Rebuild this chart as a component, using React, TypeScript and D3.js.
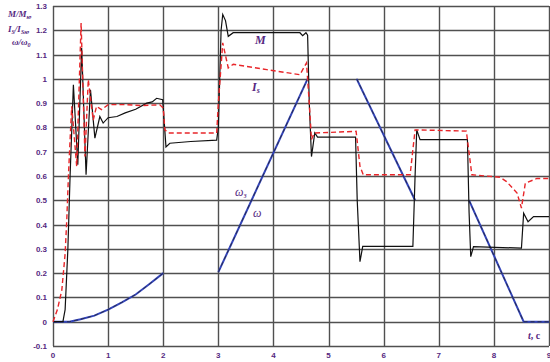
import React from "react";
import * as d3 from "d3";

// M/Mн (black)
const mT = [0, 0.18, 0.22, 0.27, 0.31, 0.37, 0.45, 0.52, 0.6, 0.68, 0.76, 0.85, 0.91, 1.0, 1.16, 1.31, 1.5, 1.7, 1.8, 1.88, 1.99, 2.05, 2.12, 2.5, 2.97, 3.0, 3.05, 3.08, 3.13, 3.18, 3.27, 4.48, 4.53, 4.59, 4.62, 4.65, 4.69, 4.75, 4.8, 5.49, 5.52, 5.57, 5.62, 6.53, 6.57, 6.6, 6.66, 7.52, 7.55, 7.58, 7.63, 8.5, 8.54, 8.62, 8.72, 9.0];
const mV = [0, 0, 0.05, 0.3, 0.6, 0.976, 0.646, 1.127, 0.605, 0.955, 0.756, 0.845, 0.818, 0.84, 0.845, 0.86, 0.875, 0.9, 0.905, 0.92, 0.914, 0.72, 0.735, 0.742, 0.748, 0.8, 1.2, 1.265, 1.24, 1.175, 1.19, 1.19, 1.178, 1.19, 1.18, 0.9, 0.68, 0.777, 0.76, 0.76, 0.5, 0.247, 0.31, 0.31, 0.6, 0.79, 0.75, 0.75, 0.45, 0.268, 0.309, 0.303, 0.447, 0.412, 0.433, 0.433];

// Is/Isн (red dashed)
const iT = [0, 0.08, 0.16, 0.22, 0.25, 0.28, 0.31, 0.34, 0.43, 0.51, 0.58, 0.64, 0.73, 0.79, 0.88, 1.0, 1.31, 1.6, 1.94, 2.0, 2.03, 2.1, 2.97, 3.0, 3.08, 3.18, 3.27, 3.88, 4.48, 4.6, 4.65, 4.69, 4.74, 5.5, 5.57, 5.63, 6.48, 6.57, 7.5, 7.6, 8.11, 8.23, 8.42, 8.5, 8.57, 8.78, 9.0];
const iV = [0, 0.05, 0.13, 0.28, 0.42, 0.6, 0.75, 0.887, 0.64, 1.23, 0.68, 0.997, 0.83, 0.887, 0.873, 0.894, 0.894, 0.89, 0.893, 0.88, 0.79, 0.777, 0.777, 0.9, 1.148, 1.045, 1.06, 1.038, 1.017, 1.066, 0.9, 0.75, 0.777, 0.784, 0.64, 0.605, 0.605, 0.79, 0.785, 0.605, 0.595, 0.577, 0.53, 0.468, 0.57, 0.59, 0.59];

// ω/ω0 (blue), four separate segments
const wT = [
  [0, 0.3, 0.5, 0.75, 1, 1.25, 1.5, 1.75, 2],
  [3, 4.62],
  [5.51, 6.57],
  [7.55, 8.54, 9],
];
const wV = [
  [0, 0, 0.01, 0.025, 0.05, 0.08, 0.112, 0.155, 0.2],
  [0.204, 1.0],
  [1.0, 0.5],
  [0.5, 0, 0],
];

const xTicks = [0, 1, 2, 3, 4, 5, 6, 7, 8, 9];
const yTicks = [-0.1, 0, 0.1, 0.2, 0.3, 0.4, 0.5, 0.6, 0.7, 0.8, 0.9, 1, 1.1, 1.2, 1.3];

const W = 550;
const H = 362;
const labelColor = "#55287f";

export default function App() {
  const x = d3.scaleLinear().domain([0, 9]).range([53, 549]);
  const y = d3.scaleLinear().domain([-0.1, 1.3]).range([346, 6]);
  const line = d3
    .line<[number, number]>()
    .x((d) => x(d[0]))
    .y((d) => y(d[1]));

  const zip = (a: number[], b: number[]) => a.map((t, i) => [t, b[i]] as [number, number]);

  // grid as one path
  const grid = d3.path();
  xTicks.forEach((t) => {
    grid.moveTo(Math.round(x(t)) + 0.5, y(1.3));
    grid.lineTo(Math.round(x(t)) + 0.5, y(-0.1));
  });
  yTicks.forEach((v) => {
    grid.moveTo(x(0), Math.round(y(v)) + 0.5);
    grid.lineTo(x(9), Math.round(y(v)) + 0.5);
  });

  return (
    <svg width={W} height={H} style={{ position: "absolute", left: 0, top: 0, background: "#fff" }}>
      <path d={grid.toString()} fill="none" stroke="#505050" strokeWidth={1.4} />

      {/* ω curves */}
      {wT.map((ts, k) => (
        <g key={"w" + k}>
          <path d={line(zip(ts, wV[k])) || ""} fill="none" stroke="#3344bb" strokeWidth={2} />
          <path d={line(zip(ts, wV[k])) || ""} fill="none" stroke="#222" strokeWidth={0.7} strokeDasharray="4 3" />
        </g>
      ))}

      {/* M */}
      <path d={line(zip(mT, mV)) || ""} fill="none" stroke="#111" strokeWidth={1.2} />
      {/* Is */}
      <path d={line(zip(iT, iV)) || ""} fill="none" stroke="#e8262a" strokeWidth={1.4} strokeDasharray="5 3" />

      {/* tick labels */}
      {yTicks.map((v) => (
        <text key={"ty" + v} x={47} y={y(v) + 3} textAnchor="end" fontFamily="Liberation Sans, Arial, sans-serif" fontSize={8} fontWeight="bold" fill={labelColor}>
          {String(Math.round(v * 10) / 10)}
        </text>
      ))}
      {xTicks.map((t) => (
        <text key={"tx" + t} x={x(t)} y={358} textAnchor="middle" fontFamily="Liberation Sans, Arial, sans-serif" fontSize={8} fontWeight="bold" fill={labelColor}>
          {t}
        </text>
      ))}

      {/* axis titles */}
      <g fontFamily="Liberation Serif, Times New Roman, serif" fontStyle="italic" fontWeight="bold" fill={labelColor} fontSize={9}>
        <text x={8} y={17}>
          M/M<tspan fontSize={6} dy={2}>н</tspan><tspan dy={-2}>,</tspan>
        </text>
        <text x={8} y={32}>
          I<tspan fontSize={6} dy={2}>S</tspan><tspan dy={-2}>/I</tspan><tspan fontSize={6} dy={2}>Sн</tspan><tspan dy={-2}>,</tspan>
        </text>
        <text x={12} y={45}>
          ω/ω<tspan fontSize={6} dy={2}>0</tspan>
        </text>
        <text x={528} y={339} fontSize={10}>
          t<tspan fontStyle="normal">, с</tspan>
        </text>
        <text x={255} y={44} fontSize={12}>M</text>
        <text x={252} y={91} fontSize={12}>
          I<tspan fontSize={8} dy={2}>s</tspan>
        </text>
        <text x={235} y={196} fontSize={12} fontWeight="normal">
          ω<tspan fontSize={8} dy={2}>з</tspan>
        </text>
        <text x={253} y={217} fontSize={12} fontWeight="normal">ω</text>
      </g>
    </svg>
  );
}
